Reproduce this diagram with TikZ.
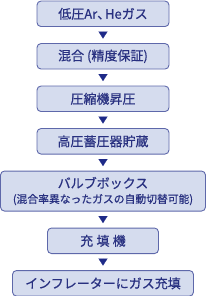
\documentclass[tikz,border=0pt]{standalone}
\usepackage{fontspec}
\setmainfont{Noto Sans CJK JP}[FakeBold=0.6]
\usetikzlibrary{arrows.meta,positioning}
\definecolor{boxfill}{HTML}{D5DCEE}
\definecolor{boxline}{HTML}{5E68AA}
\definecolor{boxtext}{HTML}{283080}
\definecolor{tipcol}{HTML}{1E2A88}

\begin{document}
\begin{tikzpicture}[x=1pt,y=-1pt,
    stage/.style={draw=boxline, fill=boxfill, line width=0.9pt, rounded corners=4pt,
        text=boxtext, font=\fontsize{13}{15}\selectfont, inner sep=0pt, outer sep=0pt,
        minimum height=25.5pt, align=center},
    flow/.style={tipcol, line width=0.1pt, shorten <=5pt, shorten >=5pt,
        -{Triangle[width=9pt,length=7pt]}}]
    \useasboundingbox (0,0) rectangle (208,296);
    % process stages
    \node[stage, minimum width=132pt] (gas) at (103,13.8) {低圧Ar、\kern-0.4em Heガス};
    \node[stage, minimum width=132pt, below=17pt of gas] (mix) {混合 (精度保証)};
    \node[stage, minimum width=132pt, below=17pt of mix] (comp) {圧縮機昇圧};
    \node[stage, minimum width=132pt, below=17pt of comp] (store) {高圧蓄圧器貯蔵};
    \node[stage, minimum width=205pt, minimum height=40pt, below=17pt of store] (valve)
        {バルブボックス\\[0pt]{\fontsize{10.8}{12}\selectfont (混合率異なったガスの自動切替可能)}};
    \node[stage, minimum width=111pt, below=17pt of valve] (fill) {充\hspace{0.25em}填\hspace{0.25em}機};
    \node[stage, minimum width=181pt, below=17pt of fill] (infl) {インフレーターにガス充填};
    % arrows
    \draw[flow] (gas) -- (mix);
    \draw[flow] (mix) -- (comp);
    \draw[flow] (comp) -- (store);
    \draw[flow] (store) -- (valve);
    \draw[flow] (valve) -- (fill);
    \draw[flow] (fill) -- (infl);
\end{tikzpicture}
\end{document}
